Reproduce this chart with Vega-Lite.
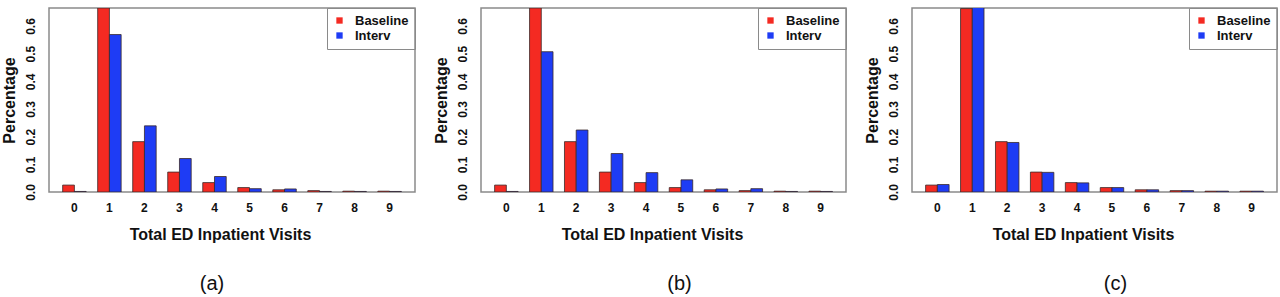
{
  "$schema": "https://vega.github.io/schema/vega-lite/v6.json",
  "background": "white",
  "padding": {"left": 0, "top": 6, "right": 5, "bottom": 0},
  "datasets": {
    "a": [
      {"visits": "0", "group": "Baseline", "pct": 0.025}, {"visits": "0", "group": "Interv", "pct": 0.002},
      {"visits": "1", "group": "Baseline", "pct": 0.665}, {"visits": "1", "group": "Interv", "pct": 0.569},
      {"visits": "2", "group": "Baseline", "pct": 0.182}, {"visits": "2", "group": "Interv", "pct": 0.239},
      {"visits": "3", "group": "Baseline", "pct": 0.072}, {"visits": "3", "group": "Interv", "pct": 0.121},
      {"visits": "4", "group": "Baseline", "pct": 0.034}, {"visits": "4", "group": "Interv", "pct": 0.056},
      {"visits": "5", "group": "Baseline", "pct": 0.016}, {"visits": "5", "group": "Interv", "pct": 0.012},
      {"visits": "6", "group": "Baseline", "pct": 0.008}, {"visits": "6", "group": "Interv", "pct": 0.011},
      {"visits": "7", "group": "Baseline", "pct": 0.005}, {"visits": "7", "group": "Interv", "pct": 0.002},
      {"visits": "8", "group": "Baseline", "pct": 0.003}, {"visits": "8", "group": "Interv", "pct": 0.002},
      {"visits": "9", "group": "Baseline", "pct": 0.003}, {"visits": "9", "group": "Interv", "pct": 0.002}
    ],
    "b": [
      {"visits": "0", "group": "Baseline", "pct": 0.025}, {"visits": "0", "group": "Interv", "pct": 0.002},
      {"visits": "1", "group": "Baseline", "pct": 0.665}, {"visits": "1", "group": "Interv", "pct": 0.507},
      {"visits": "2", "group": "Baseline", "pct": 0.182}, {"visits": "2", "group": "Interv", "pct": 0.224},
      {"visits": "3", "group": "Baseline", "pct": 0.072}, {"visits": "3", "group": "Interv", "pct": 0.139},
      {"visits": "4", "group": "Baseline", "pct": 0.034}, {"visits": "4", "group": "Interv", "pct": 0.070},
      {"visits": "5", "group": "Baseline", "pct": 0.016}, {"visits": "5", "group": "Interv", "pct": 0.044},
      {"visits": "6", "group": "Baseline", "pct": 0.008}, {"visits": "6", "group": "Interv", "pct": 0.011},
      {"visits": "7", "group": "Baseline", "pct": 0.005}, {"visits": "7", "group": "Interv", "pct": 0.012},
      {"visits": "8", "group": "Baseline", "pct": 0.003}, {"visits": "8", "group": "Interv", "pct": 0.002},
      {"visits": "9", "group": "Baseline", "pct": 0.003}, {"visits": "9", "group": "Interv", "pct": 0.002}
    ],
    "c": [
      {"visits": "0", "group": "Baseline", "pct": 0.025}, {"visits": "0", "group": "Interv", "pct": 0.027},
      {"visits": "1", "group": "Baseline", "pct": 0.663}, {"visits": "1", "group": "Interv", "pct": 0.67},
      {"visits": "2", "group": "Baseline", "pct": 0.182}, {"visits": "2", "group": "Interv", "pct": 0.179},
      {"visits": "3", "group": "Baseline", "pct": 0.072}, {"visits": "3", "group": "Interv", "pct": 0.071},
      {"visits": "4", "group": "Baseline", "pct": 0.034}, {"visits": "4", "group": "Interv", "pct": 0.033},
      {"visits": "5", "group": "Baseline", "pct": 0.016}, {"visits": "5", "group": "Interv", "pct": 0.016},
      {"visits": "6", "group": "Baseline", "pct": 0.008}, {"visits": "6", "group": "Interv", "pct": 0.008},
      {"visits": "7", "group": "Baseline", "pct": 0.005}, {"visits": "7", "group": "Interv", "pct": 0.005},
      {"visits": "8", "group": "Baseline", "pct": 0.003}, {"visits": "8", "group": "Interv", "pct": 0.003},
      {"visits": "9", "group": "Baseline", "pct": 0.003}, {"visits": "9", "group": "Interv", "pct": 0.003}
    ]
  },
  "config": {
    "font": "Liberation Sans",
    "view": {"stroke": "#8a8a8a", "strokeWidth": 1.5},
    "axis": {"grid": false, "domain": false, "ticks": false, "labelFont": "Liberation Sans", "titleFont": "Liberation Sans", "labelColor": "#111", "titleColor": "#111", "labelFontWeight": "bold", "titleFontWeight": "bold", "labelFontSize": 12, "titleFontSize": 16},
    "legend": {"orient": "top-right", "offset": 0, "strokeColor": "#8a8a8a", "padding": 6, "symbolType": "square", "symbolSize": 40, "symbolStrokeWidth": 0, "labelOffset": 9, "labelFont": "Liberation Sans", "labelFontWeight": "bold", "labelFontSize": 13, "labelColor": "#111", "rowPadding": 1, "title": null},
    "title": {"font": "Liberation Sans", "fontSize": 20, "fontWeight": "normal", "color": "#111", "orient": "bottom", "offset": 32}
  },
  "spacing": 66,
  "bounds": "flush",
  "resolve": {"legend": {"color": "independent"}},
  "hconcat": [
    {
      "data": {"name": "a"},
      "width": 366, "height": 184,
      "title": {"text": "(a)", "dx": -20},
      "mark": {"type": "bar", "stroke": "#3a2a2a", "strokeWidth": 0.8, "clip": true},
      "encoding": {
        "x": {"field": "visits", "type": "nominal", "sort": null, "scale": {"paddingInner": 0.33, "paddingOuter": 0.39}, "axis": {"labelAngle": 0, "labelPadding": 10, "title": "Total ED Inpatient Visits", "titlePadding": 13, "titleX": 171}},
        "xOffset": {"field": "group", "type": "nominal"},
        "y": {"field": "pct", "type": "quantitative", "scale": {"domain": [0, 0.665], "nice": false, "zero": true}, "axis": {"values": [0, 0.1, 0.2, 0.3, 0.4, 0.5, 0.6], "format": ".1f", "labelAngle": -90, "labelAlign": "center", "labelBaseline": "bottom", "labelPadding": 12, "title": "Percentage", "titlePadding": 7}},
        "color": {"field": "group", "type": "nominal", "scale": {"domain": ["Baseline", "Interv"], "range": ["#f42a22", "#1e3cf5"]}, "legend": {"labelExpr": "datum.label == 'Interv' ? ' Interv' : datum.label"}}
      }
    },
    {
      "data": {"name": "b"},
      "width": 365, "height": 184,
      "title": {"text": "(b)", "dx": 16},
      "mark": {"type": "bar", "stroke": "#3a2a2a", "strokeWidth": 0.8, "clip": true},
      "encoding": {
        "x": {"field": "visits", "type": "nominal", "sort": null, "scale": {"paddingInner": 0.33, "paddingOuter": 0.39}, "axis": {"labelAngle": 0, "labelPadding": 10, "title": "Total ED Inpatient Visits", "titlePadding": 13, "titleX": 171}},
        "xOffset": {"field": "group", "type": "nominal"},
        "y": {"field": "pct", "type": "quantitative", "scale": {"domain": [0, 0.665], "nice": false, "zero": true}, "axis": {"values": [0, 0.1, 0.2, 0.3, 0.4, 0.5, 0.6], "format": ".1f", "labelAngle": -90, "labelAlign": "center", "labelBaseline": "bottom", "labelPadding": 12, "title": "Percentage", "titlePadding": 7}},
        "color": {"field": "group", "type": "nominal", "scale": {"domain": ["Baseline", "Interv"], "range": ["#f42a22", "#1e3cf5"]}, "legend": {"labelExpr": "datum.label == 'Interv' ? ' Interv' : datum.label"}}
      }
    },
    {
      "data": {"name": "c"},
      "width": 365, "height": 184,
      "title": {"text": "(c)", "dx": 21},
      "mark": {"type": "bar", "stroke": "#3a2a2a", "strokeWidth": 0.8, "clip": true},
      "encoding": {
        "x": {"field": "visits", "type": "nominal", "sort": null, "scale": {"paddingInner": 0.33, "paddingOuter": 0.39}, "axis": {"labelAngle": 0, "labelPadding": 10, "title": "Total ED Inpatient Visits", "titlePadding": 13, "titleX": 171}},
        "xOffset": {"field": "group", "type": "nominal"},
        "y": {"field": "pct", "type": "quantitative", "scale": {"domain": [0, 0.665], "nice": false, "zero": true}, "axis": {"values": [0, 0.1, 0.2, 0.3, 0.4, 0.5, 0.6], "format": ".1f", "labelAngle": -90, "labelAlign": "center", "labelBaseline": "bottom", "labelPadding": 12, "title": "Percentage", "titlePadding": 7}},
        "color": {"field": "group", "type": "nominal", "scale": {"domain": ["Baseline", "Interv"], "range": ["#f42a22", "#1e3cf5"]}, "legend": {"labelExpr": "datum.label == 'Interv' ? ' Interv' : datum.label"}}
      }
    }
  ]
}
